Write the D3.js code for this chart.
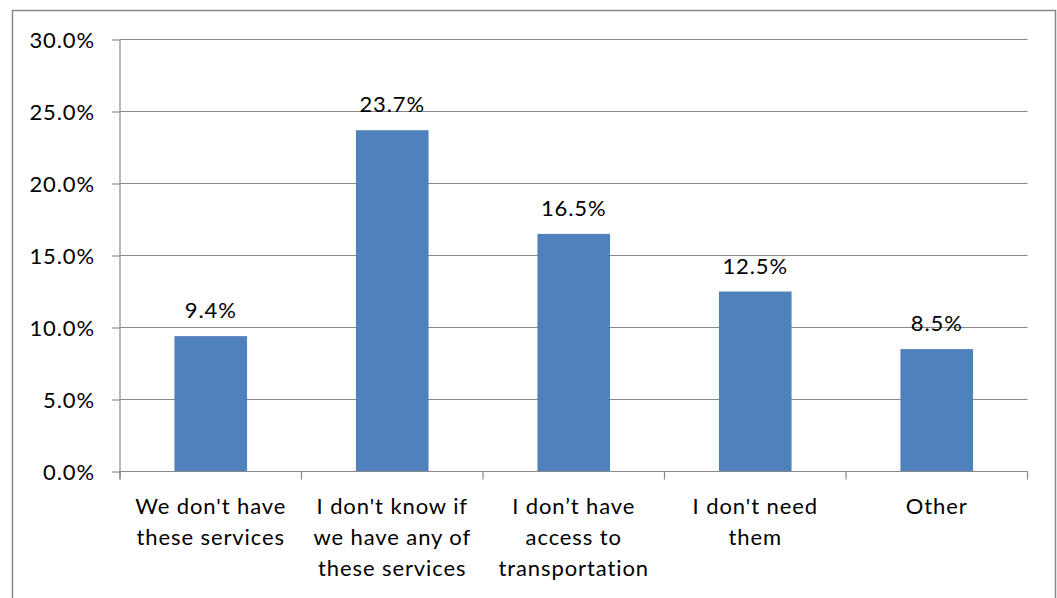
<!DOCTYPE html>
<html>
<head>
<meta charset="utf-8">
<script src="https://cdn.jsdelivr.net/npm/d3@7"></script>
<style>
  html, body { margin: 0; padding: 0; background: #fff; }
  svg text { font-family: Lato, "Open Sans", sans-serif; font-size: 22px; letter-spacing: 0.9px; fill: #000; }
</style>
</head>
<body>
<svg id="chart" width="1057" height="598"></svg>
<script>
// Survey responses: reasons for not using the services
const categories = [
  "We don't have these services",
  "I don't know if we have any of these services",
  "I don\u2019t have access to transportation",
  "I don't need them",
  "Other"
];
// Wrapped lines for the category axis labels
const categoryLines = [
  ["We don't have", "these services"],
  ["I don't know if", "we have any of", "these services"],
  ["I don\u2019t have", "access to", "transportation"],
  ["I don't need", "them"],
  ["Other"]
];
const values = [0.094, 0.237, 0.165, 0.125, 0.085];
const yTicks = [0, 0.05, 0.10, 0.15, 0.20, 0.25, 0.30];

const svg = d3.select("#chart");
const margin = { left: 120, right: 1027.5, top: 39.5, bottom: 471.5 };
const gridColor = "#898989";
const barColor = "#4F81BD";

// Outer chart frame
svg.append("rect")
  .attr("x", 12.5).attr("y", 10.5)
  .attr("width", 1043).attr("height", 620)
  .attr("fill", "none")
  .attr("stroke", gridColor)
  .attr("stroke-width", 1.5);

const x = d3.scaleBand().domain(categories).range([margin.left, margin.right]).padding(0);
const y = d3.scaleLinear().domain([0, 0.30]).range([margin.bottom, margin.top]);
const fmt = d3.format(".1%");

// Horizontal gridlines
svg.append("g").selectAll("line").data(yTicks.slice(1)).join("line")
  .attr("x1", margin.left).attr("x2", margin.right)
  .attr("y1", d => Math.round(y(d) - 0.5) + 0.5)
  .attr("y2", d => Math.round(y(d) - 0.5) + 0.5)
  .attr("stroke", gridColor).attr("stroke-width", 1.2);

// Value axis
const yAxis = svg.append("g")
  .attr("transform", `translate(${margin.left},0)`)
  .call(d3.axisLeft(y).tickValues(yTicks).tickFormat(fmt).tickSize(8).tickPadding(17));
yAxis.select(".domain").attr("stroke", gridColor).attr("stroke-width", 1.2)
  .attr("d", `M0,${margin.top}V${margin.bottom + 8}`);
yAxis.selectAll(".tick line").attr("stroke", gridColor).attr("stroke-width", 1.2);
yAxis.selectAll(".tick text").attr("dy", "0.36em");

// Bars
const barW = x.bandwidth() / 2.5;
svg.append("g").selectAll("rect").data(values).join("rect")
  .attr("x", (d, i) => x(categories[i]) + (x.bandwidth() - barW) / 2)
  .attr("y", d => y(d))
  .attr("width", barW)
  .attr("height", d => y(0) - y(d))
  .attr("fill", barColor);

// Category axis line and boundary ticks
svg.append("line")
  .attr("x1", margin.left).attr("x2", margin.right)
  .attr("y1", margin.bottom).attr("y2", margin.bottom)
  .attr("stroke", gridColor).attr("stroke-width", 1.2);
const bounds = categories.map(c => x(c)).concat([margin.right]);
svg.append("g").selectAll("line").data(bounds).join("line")
  .attr("x1", d => d).attr("x2", d => d)
  .attr("y1", margin.bottom).attr("y2", margin.bottom + 8)
  .attr("stroke", gridColor).attr("stroke-width", 1.2);

// Category labels
const catG = svg.append("g").selectAll("text").data(categoryLines).join("text")
  .attr("text-anchor", "middle")
  .attr("x", (d, i) => x(categories[i]) + x.bandwidth() / 2)
  .attr("y", 514);
catG.selectAll("tspan").data(d => d).join("tspan")
  .attr("x", function () { return d3.select(this.parentNode).attr("x"); })
  .attr("dy", (d, i) => i === 0 ? 0 : 31)
  .text(d => d);

// Value labels above bars
svg.append("g").selectAll("text").data(values).join("text")
  .attr("text-anchor", "middle")
  .attr("x", (d, i) => x(categories[i]) + x.bandwidth() / 2)
  .attr("y", d => y(d) - 18)
  .text(d => fmt(d));
</script>
</body>
</html>
